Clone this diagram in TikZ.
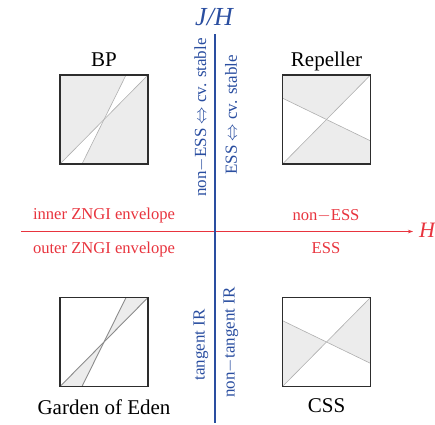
\documentclass[tikz,border=0pt]{standalone}
\usepackage{fontspec}
\setmainfont{Liberation Serif}
\usetikzlibrary{arrows.meta}
\definecolor{axred}{RGB}{232,52,62}
\definecolor{axblue}{RGB}{42,78,160}
\definecolor{shadegray}{RGB}{236,236,236}
\definecolor{divline}{RGB}{175,175,175}
\definecolor{divdark}{RGB}{140,140,140}
\definecolor{framecol}{RGB}{45,45,45}
\begin{document}
\begin{tikzpicture}[x=1pt,y=-1pt,
  panelarea/.style={minimum width=88pt,minimum height=89pt,inner sep=0pt,outer sep=0pt},
  panelframe/.style={draw=framecol,line width=1.1pt},
  title/.style={font=\fontsize{21}{25}\selectfont,anchor=base,inner sep=0pt},
  redlab/.style={text=axred,font=\fontsize{16.6}{20}\selectfont,anchor=base,inner sep=0pt},
  bluelab/.style={text=axblue,font=\fontsize{17}{20}\selectfont,rotate=90,inner sep=0pt},
  divide/.style={draw=divline,line width=0.6pt},
  dividedark/.style={draw=divdark,line width=0.9pt},
  ]
\useasboundingbox (0,0) rectangle (435,424);

% panels
\path node[panelarea] (bp) at (104,119.5) {};
\path node[panelarea] (rep) at (326.5,119.5) {};
\path node[panelarea] (goe) at (104,342) {};
\path node[panelarea] (css) at (326.5,342) {};

% BP
\begin{scope}[shift={(bp.south west)},x=88pt,y=89pt]
  \fill[shadegray] (0,0) -- (0.5,0.5) -- (0.75,1) -- (0,1) -- cycle;
  \fill[shadegray] (0.25,0) -- (1,0) -- (1,1) -- (0.5,0.5) -- cycle;
  \draw[divide] (0,0) -- (1,1);
  \draw[divide] (0.25,0) -- (0.75,1);
\end{scope}
% Repeller
\begin{scope}[shift={(rep.south west)},x=88pt,y=89pt]
  \fill[shadegray] (0,0.74) -- (0,1) -- (1,1) -- (0.5,0.5) -- cycle;
  \fill[shadegray] (0,0) -- (0.5,0.5) -- (1,0.26) -- (1,0) -- cycle;
  \draw[divide] (0,0) -- (1,1);
  \draw[divide] (0,0.74) -- (1,0.26);
\end{scope}
% Garden of Eden
\begin{scope}[shift={(goe.south west)},x=88pt,y=89pt]
  \fill[shadegray] (0.5,0.5) -- (0.75,1) -- (1,1) -- cycle;
  \fill[shadegray] (0.5,0.5) -- (0,0) -- (0.25,0) -- cycle;
  \draw[dividedark] (0,0) -- (1,1);
  \draw[dividedark] (0.25,0) -- (0.75,1);
\end{scope}
% CSS
\begin{scope}[shift={(css.south west)},x=88pt,y=89pt]
  \fill[shadegray] (0,0) -- (0,0.74) -- (0.5,0.5) -- cycle;
  \fill[shadegray] (1,1) -- (1,0.26) -- (0.5,0.5) -- cycle;
  \draw[divide] (0,0) -- (1,1);
  \draw[divide] (0,0.74) -- (1,0.26);
\end{scope}

\foreach \p in {bp,rep,goe,css}
  \draw[panelframe] (\p.south west) rectangle (\p.north east);

% titles
\node[title] (tbp) at (104,66) {BP};
\node[title] (trep) at (326.5,66) {Repeller};
\node[title] (tgoe) at (104,414) {Garden of Eden};
\node[title] (tcss) at (326.5,412) {CSS};

% axes
\coordinate (xl) at (21,231.5);
\coordinate (xr) at (413,231.5);
\coordinate (yt) at (215,34);
\coordinate (yb) at (215,423);
\draw[axred,line width=1.1pt,-{Stealth[length=5pt,width=3.5pt]}] (xl) -- (xr);
\draw[axblue,line width=1.1pt] (yt) -- (yb);
\node[text=axred,font=\fontsize{22}{26}\selectfont\itshape,anchor=base west,inner sep=0pt] (hlab) at (419,237) {H};
\node[text=axblue,font=\fontsize{26}{30}\selectfont\itshape,anchor=base,inner sep=0pt] (jhlab) at (214,25) {J/H};

% red labels
\node[redlab] (inner) at (104,219) {inner ZNGI envelope};
\node[redlab] (outer) at (104,253) {outer ZNGI envelope};
\node[redlab] (ness) at (326,220) {non$-$ESS};
\node[redlab] (ess) at (326,253) {ESS};

% blue labels
\node[bluelab] (b1) at (201,117.5) {non$-$ESS $\Leftrightarrow$ cv. stable};
\node[bluelab] (b2) at (231,115) {ESS $\Leftrightarrow$ cv. stable};
\node[bluelab] (b3) at (201,345) {tangent IR};
\node[bluelab] (b4) at (231,342.5) {non$-$tangent IR};
\end{tikzpicture}
\end{document}
